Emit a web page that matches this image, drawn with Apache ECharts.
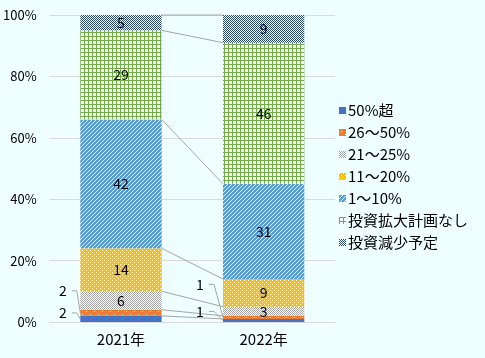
<!DOCTYPE html>
<html>
<head>
<meta charset="utf-8">
<script src="https://cdn.jsdelivr.net/npm/echarts@6/dist/echarts.min.js"></script>
<style>html,body{margin:0;padding:0;background:#EFFFFF;}#c{width:485px;height:358px;}</style>
</head>
<body>
<div id="c"></div>
<script>
// ---- data ----
const categories = ['2021年', '2022年'];
const seriesNames = ['50%超', '26～50%', '21～25%', '11～20%', '1～10%', '投資拡大計画なし', '投資減少予定'];
const v50over = [2, 1];
const v26to50 = [2, 1];
const v21to25 = [6, 3];
const v11to20 = [14, 9];
const v1to10 = [42, 31];
const vNoPlan = [29, 46];
const vDecrease = [5, 9];
const yTicks = [0, 20, 40, 60, 80, 100];

const allValues = [v50over, v26to50, v21to25, v11to20, v1to10, vNoPlan, vDecrease];

// ---- styling ----
const FONT = '"Noto Sans CJK JP", "Noto Sans", sans-serif';
const BAR_RATIO = 0.57;

function pattern(w, h, bg, fg, pts) {
  const c = document.createElement('canvas');
  c.width = w; c.height = h;
  const g = c.getContext('2d');
  g.fillStyle = bg; g.fillRect(0, 0, w, h);
  g.fillStyle = fg;
  pts.forEach(p => g.fillRect(p[0], p[1], 1, 1));
  return { image: c, repeat: 'repeat' };
}
const gridPts = [];
for (let i = 0; i < 4; i++) { gridPts.push([i, 0]); gridPts.push([0, i]); }
const fills = [
  '#4472C4',
  pattern(8, 6, '#ED7D31', '#FFFFFF', [[2, 2], [6, 5]]),
  pattern(2, 2, '#FFFFFF', '#A5A5A5', [[0, 0], [1, 1]]),
  pattern(4, 4, '#FFC000', '#FFFFFF', [[0, 0], [2, 2]]),
  pattern(4, 4, '#5B9BD5', '#E6F0FA', [[3, 0], [2, 1], [1, 2], [0, 3]]),
  pattern(4, 4, '#F4FFF4', '#70AD47', gridPts),
  pattern(2, 2, '#FFFFFF', '#264478', [[0, 0], [1, 1]])
];

// cumulative tops per category
const cum = categories.map((_, ci) => {
  let s = 0;
  return allValues.map(arr => (s += arr[ci]));
});

// small labels drawn outside with leader lines: [seriesIndex, categoryIndex, dx from bar left, dy from segment centre]
const outsideLabels = [
  [1, 0, -17.5, -22], [0, 0, -17.5, -6],
  [1, 1, -23, -33], [0, 1, -23, -9]
];

const barSeries = seriesNames.map((name, i) => ({
  name: name,
  type: 'bar',
  stack: 'total',
  barWidth: (BAR_RATIO * 100) + '%',
  data: allValues[i],
  itemStyle: { color: fills[i] },
  label: {
    show: true,
    position: 'inside',
    color: '#000',
    fontFamily: FONT,
    fontSize: 14,
    formatter: p => (p.value >= 3 ? String(p.value) : '')
  },
  emphasis: { disabled: true }
}));

const connectorSeries = {
  type: 'custom',
  name: '_connectors',
  silent: true,
  data: [[0, 0]],
  z: 1,
  renderItem: function (params, api) {
    const bw = api.size([1, 0])[0] * BAR_RATIO;
    const children = [];
    for (let k = 0; k < seriesNames.length; k++) {
      const p1 = api.coord([0, cum[0][k]]);
      const p2 = api.coord([1, cum[1][k]]);
      children.push({
        type: 'line',
        shape: { x1: p1[0] + bw / 2, y1: p1[1], x2: p2[0] - bw / 2, y2: p2[1] },
        style: { stroke: '#A6A6A6', lineWidth: 1 }
      });
    }
    outsideLabels.forEach(([si, ci, dx, dy]) => {
      const val = allValues[si][ci];
      const bottom = si === 0 ? 0 : cum[ci][si - 1];
      const c = api.coord([ci, bottom + val / 2]);
      const left = c[0] - bw / 2;
      const lx = left + dx, ly = c[1] + dy;
      children.push({
        type: 'polyline',
        shape: { points: [[lx + 9, ly], [lx + 14, ly], [left, c[1]]] },
        style: { stroke: '#A6A6A6', lineWidth: 1, fill: null }
      });
      children.push({
        type: 'text',
        style: {
          text: String(val), x: lx, y: ly, align: 'center', verticalAlign: 'middle',
          fill: '#000', font: '14px ' + FONT
        }
      });
    });
    return { type: 'group', children: children };
  }
};

const chart = echarts.init(document.getElementById('c'), null, { renderer: 'canvas' });
chart.setOption({
  backgroundColor: '#EFFFFF',
  animation: false,
  grid: { left: 49, right: 150, top: 15, bottom: 36, containLabel: false },
  legend: {
    data: seriesNames,
    orient: 'vertical',
    left: 334,
    top: 97,
    itemWidth: 7,
    itemHeight: 7,
    itemGap: 5,
    icon: 'rect',
    selectedMode: false,
    textStyle: { fontFamily: FONT, fontSize: 15, color: '#000', lineHeight: 17, padding: [0, 0, 0, -3] }
  },
  xAxis: {
    type: 'category',
    data: categories,
    axisTick: { show: false },
    axisLine: { lineStyle: { color: '#D9D9D9' } },
    axisLabel: { color: '#000', fontFamily: FONT, fontSize: 15, margin: 10 }
  },
  yAxis: {
    type: 'value',
    min: yTicks[0],
    max: yTicks[yTicks.length - 1],
    interval: yTicks[1] - yTicks[0],
    axisLine: { show: false },
    axisTick: { show: false },
    splitLine: { lineStyle: { color: '#D9D9D9' } },
    axisLabel: { color: '#000', fontFamily: FONT, fontSize: 13, margin: 13, formatter: '{value}%' }
  },
  series: barSeries.concat([connectorSeries])
});
</script>
</body>
</html>
